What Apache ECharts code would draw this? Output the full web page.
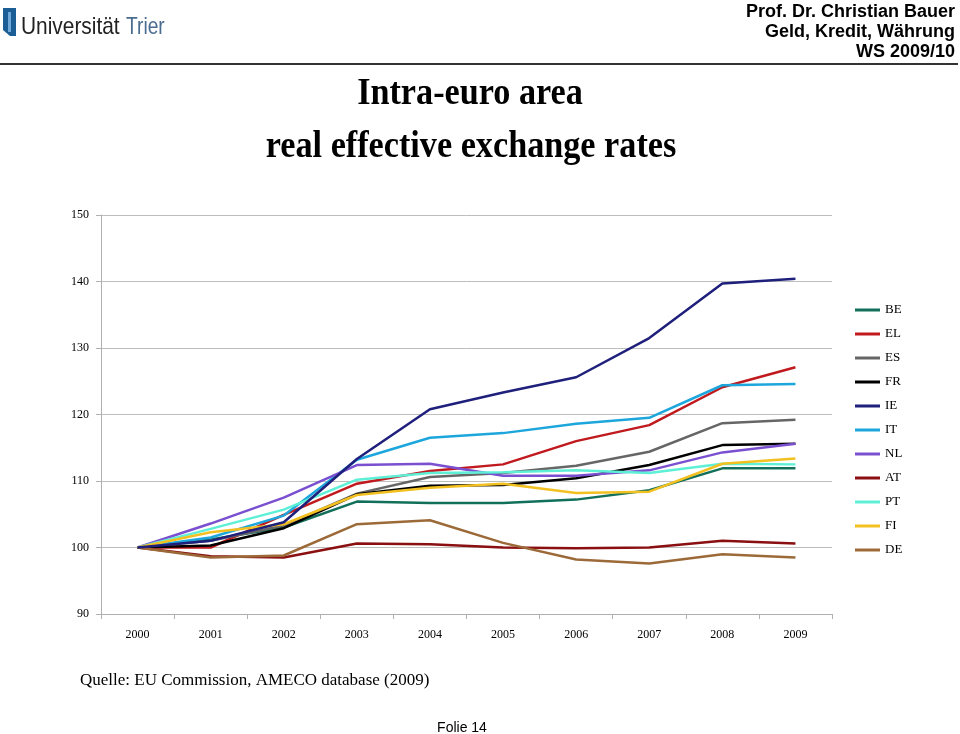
<!DOCTYPE html>
<html>
<head>
<meta charset="utf-8">
<script src="https://cdn.jsdelivr.net/npm/echarts@6/dist/echarts.min.js"></script>
<style>
html,body{margin:0;padding:0;background:#fff;}
#chart{width:960px;height:734px;}
</style>
</head>
<body>
<div id="chart"></div>
<script>
var years = ['2000','2001','2002','2003','2004','2005','2006','2007','2008','2009'];
var yTicks = [90, 100, 110, 120, 130, 140, 150];
var BE = [100, 101.2, 103.0, 106.9, 106.7, 106.7, 107.2, 108.6, 111.9, 111.9];
var EL = [100, 100.0, 104.9, 109.6, 111.5, 112.5, 116.0, 118.4, 124.1, 127.1];
var ES = [100, 101.0, 103.3, 108.1, 110.6, 111.2, 112.3, 114.4, 118.7, 119.2];
var FR = [100, 100.3, 102.9, 108.0, 109.3, 109.4, 110.4, 112.4, 115.4, 115.6];
var IE = [100, 101.0, 103.8, 113.3, 120.8, 123.3, 125.6, 131.5, 139.7, 140.4];
var IT = [100, 101.5, 104.8, 113.2, 116.5, 117.2, 118.6, 119.5, 124.4, 124.6];
var NL = [100, 103.6, 107.5, 112.4, 112.6, 110.8, 110.8, 111.6, 114.3, 115.6];
var AT = [100, 98.7, 98.5, 100.6, 100.5, 100.0, 99.9, 100.0, 101.0, 100.6];
var PT = [100, 102.8, 105.7, 110.2, 111.2, 111.3, 111.6, 111.2, 112.6, 112.5];
var FI = [100, 102.3, 103.5, 107.9, 109.0, 109.6, 108.2, 108.4, 112.6, 113.4];
var DE = [100, 98.5, 98.8, 103.5, 104.1, 100.7, 98.2, 97.6, 99.0, 98.5];

var seriesNames = ['BE','EL','ES','FR','IE','IT','NL','AT','PT','FI','DE'];
var seriesData = [BE, EL, ES, FR, IE, IT, NL, AT, PT, FI, DE];
var seriesColors = ['#12705a','#c01a1f','#666666','#000000','#1f1f7c','#1da6dc','#7a50d0','#8a0f10','#5ef0d6','#f2c020','#9c6a38'];

var chart = echarts.init(document.getElementById('chart'));
var serif = '"Liberation Serif", "DejaVu Serif", serif';
var sans = '"Liberation Sans", Arial, sans-serif';

var series = seriesNames.map(function(n, i){
  return {
    name: n, type: 'line', data: seriesData[i],
    symbol: 'none', smooth: false,
    lineStyle: {width: 2.5, color: seriesColors[i]},
    itemStyle: {color: seriesColors[i]},
    z: (i === 4 ? 3 : 2)
  };
});

chart.setOption({
  animation: false,
  backgroundColor: '#ffffff',
  grid: {left: 101, right: 128, top: 215, bottom: 120, containLabel: false},
  legend: {
    orient: 'vertical', left: 850, top: 298,
    icon: 'rect', itemWidth: 25, itemHeight: 3, itemGap: 10,
    textStyle: {fontFamily: serif, fontSize: 13, color: '#000', lineHeight: 14},
    data: seriesNames
  },
  xAxis: {
    type: 'category', data: years, boundaryGap: true,
    axisLine: {show: true, lineStyle: {color: '#b0b0b0', width: 1}},
    axisTick: {show: true, interval: 0, length: 5, lineStyle: {color: '#b0b0b0'}},
    axisLabel: {fontFamily: serif, fontSize: 12, color: '#000', margin: 15, interval: 0},
    splitLine: {show: false}
  },
  yAxis: {
    type: 'value', min: yTicks[0], max: yTicks[yTicks.length-1], interval: 10,
    axisLine: {show: true, lineStyle: {color: '#b0b0b0', width: 1}},
    axisTick: {show: true, length: 5, lineStyle: {color: '#b0b0b0'}},
    axisLabel: {fontFamily: serif, fontSize: 12, color: '#000', margin: 12},
    splitLine: {show: true, lineStyle: {color: '#bdbdbd', width: 1}}
  },
  series: series,
  graphic: [
    // logo icon
    {type: 'polygon', shape: {points: [[3,8],[16,8],[16,36],[10,36],[3,30]]}, style: {fill: '#1b5e96'}},
    {type: 'rect', shape: {x: 8, y: 12, width: 3, height: 20}, style: {fill: '#6fa7d6'}},
    {type: 'text', x: 21, y: 27, scaleX: 0.87, style: {text: 'Universität', font: '24px ' + sans, fill: '#222222', verticalAlign: 'middle'}},
    {type: 'text', x: 126, y: 27, scaleX: 0.8, style: {text: 'Trier', font: '24px ' + sans, fill: '#4a6d8f', verticalAlign: 'middle'}},
    // header right
    {type: 'text', x: 955, y: 12, style: {text: 'Prof. Dr. Christian Bauer', font: 'bold 18px ' + sans, fill: '#000', align: 'right', verticalAlign: 'middle'}},
    {type: 'text', x: 955, y: 32, style: {text: 'Geld, Kredit, Währung', font: 'bold 18px ' + sans, fill: '#000', align: 'right', verticalAlign: 'middle'}},
    {type: 'text', x: 955, y: 52, style: {text: 'WS 2009/10', font: 'bold 18px ' + sans, fill: '#000', align: 'right', verticalAlign: 'middle'}},
    {type: 'line', shape: {x1: 0, y1: 64, x2: 958, y2: 64}, style: {stroke: '#333', lineWidth: 2}},
    // title
    {type: 'text', x: 470, y: 94, scaleX: 0.9, style: {text: 'Intra-euro area', font: 'bold 38px ' + serif, fill: '#000', align: 'center', verticalAlign: 'middle'}},
    {type: 'text', x: 471, y: 147, scaleX: 0.9, style: {text: 'real effective exchange rates', font: 'bold 38px ' + serif, fill: '#000', align: 'center', verticalAlign: 'middle'}},
    // footer
    {type: 'text', x: 80, y: 681, style: {text: 'Quelle: EU Commission, AMECO database (2009)', font: '17px ' + serif, fill: '#000', verticalAlign: 'middle'}},
    {type: 'text', x: 462, y: 728, style: {text: 'Folie 14', font: '14px ' + sans, fill: '#000', align: 'center', verticalAlign: 'middle'}}
  ]
});
</script>
</body>
</html>
